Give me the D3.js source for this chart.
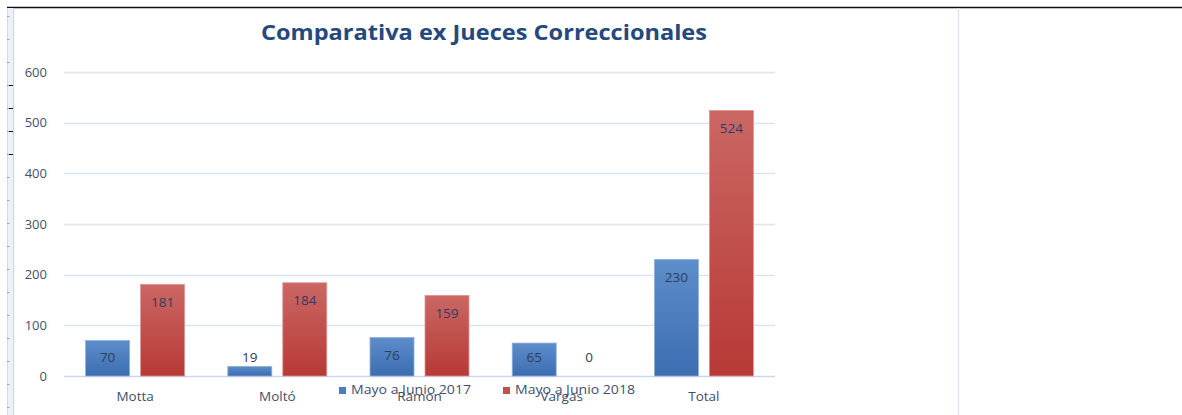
<!DOCTYPE html>
<html>
<head>
<meta charset="utf-8">
<script src="https://cdn.jsdelivr.net/npm/d3@7"></script>
<style>
  body { margin: 0; background: #fff; }
  text { font-family: "Open Sans", "DejaVu Sans", sans-serif; }
</style>
</head>
<body>
<script>
(function(){

// data
var categories = ["Motta", "Moltó", "Ramon", "Vargas", "Total"];
var seriesNames = ["Mayo a Junio 2017", "Mayo a Junio 2018"];
var values2017 = [70, 19, 76, 65, 230];
var values2018 = [181, 184, 159, 0, 524];
var yTicks = [0, 100, 200, 300, 400, 500, 600];
var titleText = "Comparativa ex Jueces Correccionales";

var width = 1182, height = 415;

var svg = d3.select("body").append("svg")
    .attr("width", width)
    .attr("height", height);

//gradients for the bars
var defs = svg.append("defs");
var gradColors = [["#5d8dca", "#3c6db1"], ["#cb6764", "#b73935"]];
gradColors.forEach(function(c, i){
    var g = defs.append("linearGradient")
        .attr("id", "grad" + i)
        .attr("x1", 0).attr("y1", 0).attr("x2", 0).attr("y2", 1);
    g.append("stop").attr("offset", "0%").attr("stop-color", c[0]);
    g.append("stop").attr("offset", "100%").attr("stop-color", c[1]);
});
var legendColors = ["#4a7cbe", "#c0504d"];

//page frame bits (sheet ruler and borders)
svg.append("line")
    .attr("x1", 7).attr("x2", width).attr("y1", 7.5).attr("y2", 7.5)
    .attr("stroke", "#111").attr("stroke-width", 1.5);
svg.append("rect")
    .attr("x", 7).attr("y", 8).attr("width", 6).attr("height", height - 8)
    .attr("fill", "#eef2f8");
svg.append("line")
    .attr("x1", 13.5).attr("x2", 13.5).attr("y1", 8).attr("y2", height)
    .attr("stroke", "#c9d6e8");
svg.append("line")
    .attr("x1", 7.5).attr("x2", 7.5).attr("y1", 8).attr("y2", height)
    .attr("stroke", "#d4dbe6");
d3.range(16, height, 23).forEach(function(yy){
    svg.append("line")
        .attr("x1", 7).attr("x2", 9.5).attr("y1", yy + 0.5).attr("y2", yy + 0.5)
        .attr("stroke", "#9aa3b0");
});
[85, 108, 131, 154].forEach(function(yy){
    svg.append("line")
        .attr("x1", 9).attr("x2", 13).attr("y1", yy + 0.5).attr("y2", yy + 0.5)
        .attr("stroke", "#111");
});
svg.append("line")
    .attr("x1", 958.5).attr("x2", 958.5).attr("y1", 8).attr("y2", height)
    .attr("stroke", "#dde6f1").attr("stroke-width", 1.5);

//scales
var x0 = d3.scaleBand()
    .domain(categories)
    .range([64, 775])
    .paddingInner(0.304)
    .paddingOuter(0.152);

var x1 = d3.scaleBand()
    .domain([0, 1])
    .range([0, x0.bandwidth()])
    .paddingInner(0.2);

var y = d3.scaleLinear()
    .domain([0, 600])
    .range([376, 72]);

//gridlines
svg.append("g").selectAll("line")
    .data(yTicks)
    .enter()
    .append("line")
    .attr("x1", 64).attr("x2", 775)
    .attr("y1", function(d){ return Math.round(y(d)) + 0.5; })
    .attr("y2", function(d){ return Math.round(y(d)) + 0.5; })
    .attr("stroke", function(d){ return d == 0 ? "#c9d8ec" : "#dce6f2"; })
    .attr("stroke-width", 1.5);

//y axis labels
var yAxis = d3.axisLeft(y)
    .tickValues(yTicks)
    .tickSize(0)
    .tickPadding(0);
var axisG = svg.append("g")
    .attr("transform", "translate(47,0)")
    .call(yAxis);
axisG.select(".domain").remove();
axisG.selectAll("text")
    .attr("fill", "#3f4f6e")
    .style("font-size", "13px")
    .style("font-family", "'Open Sans', sans-serif");

//bars
var rows = categories.map(function(c, i){
    return { cat: c, vals: [values2017[i], values2018[i]] };
});

var groups = svg.selectAll(".group")
    .data(rows)
    .enter()
    .append("g")
    .attr("class", "group")
    .attr("transform", function(d){ return "translate(" + x0(d.cat) + ",0)"; });

var bars = groups.selectAll("rect")
    .data(function(d){ return d.vals.map(function(v, s){ return { s: s, v: v }; }); })
    .enter()
    .append("rect")
    .attr("x", function(d){ return x1(d.s); })
    .attr("y", function(d){ return y(d.v); })
    .attr("width", x1.bandwidth())
    .attr("height", function(d){ return y(0) - y(d.v); })
    .attr("fill", function(d){ return "url(#grad" + d.s + ")"; })
    .attr("stroke", function(d){ return d.v > 0 ? (d.s == 0 ? "#8fb0dc" : "#dc9694") : "none"; })
    .attr("stroke-width", 0.8);

//value labels
groups.selectAll(".lbl")
    .data(function(d){ return d.vals.map(function(v, s){ return { s: s, v: v }; }); })
    .enter()
    .append("text")
    .attr("class", "lbl")
    .attr("x", function(d){ return x1(d.s) + x1.bandwidth() / 2; })
    .attr("y", function(d){ return Math.min(y(d.v) + 18, 357) + 4.5; })
    .attr("text-anchor", "middle")
    .attr("fill", "#2c3d63")
    .style("font-size", "13.5px")
    .text(function(d){ return d.v; });

//category labels
svg.selectAll(".cat")
    .data(categories)
    .enter()
    .append("text")
    .attr("class", "cat")
    .attr("x", function(d){ return x0(d) + x0.bandwidth() / 2; })
    .attr("y", 401)
    .attr("text-anchor", "middle")
    .attr("fill", "#3f4f6e")
    .style("font-size", "13.5px")
    .text(function(d){ return d; });

//legend
var legendX = [339, 503];
var legend = svg.selectAll(".legend")
    .data(seriesNames)
    .enter()
    .append("g")
    .attr("class", "legend")
    .attr("transform", function(d, i){ return "translate(" + legendX[i] + ",0)"; });
legend.append("rect")
    .attr("x", 0).attr("y", 387)
    .attr("width", 7).attr("height", 7)
    .attr("fill", function(d, i){ return legendColors[i]; });
legend.append("text")
    .attr("x", 12).attr("y", 394)
    .attr("fill", "#3f4f6e")
    .style("font-size", "13.5px")
    .attr("textLength", 120)
    .attr("lengthAdjust", "spacingAndGlyphs")
    .text(function(d){ return d; });

//title
svg.append("text")
    .attr("x", 484)
    .attr("y", 40)
    .attr("text-anchor", "middle")
    .attr("fill", "#24497c")
    .style("font-size", "22px")
    .style("font-weight", "bold")
    .attr("textLength", 446)
    .attr("lengthAdjust", "spacingAndGlyphs")
    .text(titleText);

})();
</script>
</body>
</html>
